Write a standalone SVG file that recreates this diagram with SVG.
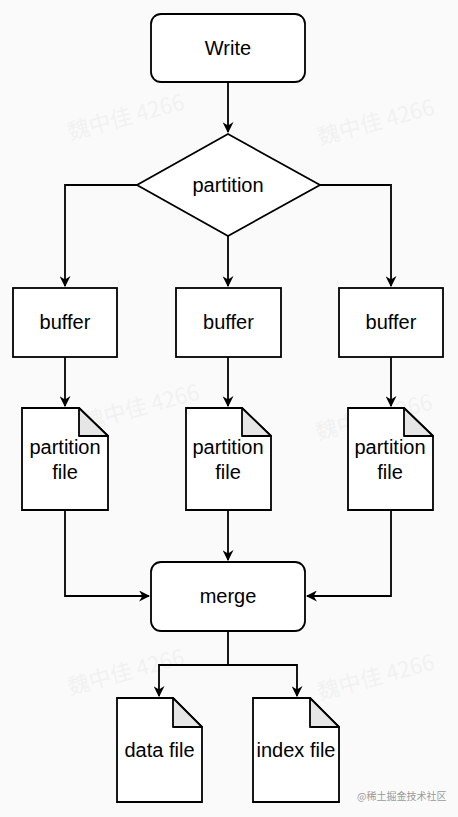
<svg xmlns="http://www.w3.org/2000/svg" width="458" height="817" viewBox="0 0 458 817">
<defs>
<marker id="ah" viewBox="0 0 10 10" refX="9" refY="5" markerWidth="11" markerHeight="11" markerUnits="userSpaceOnUse" orient="auto">
<path d="M0,0 L10,5 L0,10 L3,5 Z" fill="#000"/>
</marker>
<style>
.shape{fill:#fff;stroke:#000;stroke-width:1.8}
.fold{fill:#e6e6e6;stroke:#000;stroke-width:1.8;stroke-linejoin:round}
.lbl{font-family:"Liberation Sans",Arial,sans-serif;font-size:20px;fill:#000;text-anchor:middle}
.edge{fill:none;stroke:#000;stroke-width:1.8}
.wm{font-family:"Noto Sans CJK SC","Liberation Sans",sans-serif;font-size:22px;fill:#000;opacity:0.03}
.credit{font-family:"Noto Sans CJK SC","Liberation Sans",sans-serif;font-size:10px;fill:#9a9a9a}
</style>
</defs>
<rect x="0" y="0" width="458" height="817" fill="#fafafa"/>
<g id="watermarks">
<text class="wm" transform="translate(70,140) rotate(-15)">魏中佳 4266</text>
<text class="wm" transform="translate(320,145) rotate(-15)">魏中佳 4266</text>
<text class="wm" transform="translate(85,430) rotate(-15)">魏中佳 4266</text>
<text class="wm" transform="translate(318,440) rotate(-15)">魏中佳 4266</text>
<text class="wm" transform="translate(70,695) rotate(-15)">魏中佳 4266</text>
<text class="wm" transform="translate(320,700) rotate(-15)">魏中佳 4266</text>
</g>
<g id="connectors">
<path class="edge" d="M228,82 V132" marker-end="url(#ah)"/>
<path class="edge" d="M137,185 H65 V286" marker-end="url(#ah)"/>
<path class="edge" d="M228,236 V286" marker-end="url(#ah)"/>
<path class="edge" d="M320,185 H391 V286" marker-end="url(#ah)"/>
<path class="edge" d="M65,357 V406" marker-end="url(#ah)"/>
<path class="edge" d="M228,357 V406" marker-end="url(#ah)"/>
<path class="edge" d="M391,357 V406" marker-end="url(#ah)"/>
<path class="edge" d="M65,510 V596 H149" marker-end="url(#ah)"/>
<path class="edge" d="M228,510 V560" marker-end="url(#ah)"/>
<path class="edge" d="M391,510 V596 H307" marker-end="url(#ah)"/>
<path class="edge" d="M228,631 V665 H159 V696" marker-end="url(#ah)"/>
<path class="edge" d="M228,665 H297 V696" marker-end="url(#ah)"/>
</g>
<g id="write">
<rect class="shape" x="151" y="14" width="154" height="68" rx="10"/>
<text class="lbl" x="228" y="55">Write</text>
</g>
<g id="partition">
<path class="shape" d="M228,134 L320,185 L228,236 L137,185 Z"/>
<text class="lbl" x="228" y="192">partition</text>
</g>
<g id="buffer1">
<rect class="shape" x="13" y="288" width="104" height="69"/>
<text class="lbl" x="65" y="329">buffer</text>
</g>
<g id="buffer2">
<rect class="shape" x="176" y="288" width="105" height="69"/>
<text class="lbl" x="228.5" y="329">buffer</text>
</g>
<g id="buffer3">
<rect class="shape" x="339" y="288" width="104" height="69"/>
<text class="lbl" x="391" y="329">buffer</text>
</g>
<g id="pfile1">
<path class="shape" d="M22,408 H79 L108,436 V510 H22 Z"/>
<path class="fold" d="M79,408 V436 H108 Z"/>
<text class="lbl" x="65" y="454">partition</text>
<text class="lbl" x="65" y="479">file</text>
</g>
<g id="pfile2">
<path class="shape" d="M186,408 H242 L271,436 V510 H186 Z"/>
<path class="fold" d="M242,408 V436 H271 Z"/>
<text class="lbl" x="228" y="454">partition</text>
<text class="lbl" x="228" y="479">file</text>
</g>
<g id="pfile3">
<path class="shape" d="M348,408 H404 L433,436 V510 H348 Z"/>
<path class="fold" d="M404,408 V436 H433 Z"/>
<text class="lbl" x="390" y="454">partition</text>
<text class="lbl" x="390" y="479">file</text>
</g>
<g id="merge">
<rect class="shape" x="151" y="562" width="154" height="69" rx="10"/>
<text class="lbl" x="228" y="603">merge</text>
</g>
<g id="datafile">
<path class="shape" d="M117,698 H173 L202,727 V802 H117 Z"/>
<path class="fold" d="M173,698 V727 H202 Z"/>
<text class="lbl" x="159.5" y="757">data file</text>
</g>
<g id="indexfile">
<path class="shape" d="M253,698 H310 L339,727 V802 H253 Z"/>
<path class="fold" d="M310,698 V727 H339 Z"/>
<text class="lbl" x="296" y="757">index file</text>
</g>
<text class="credit" x="357" y="800">@稀土掘金技术社区</text>
</svg>
